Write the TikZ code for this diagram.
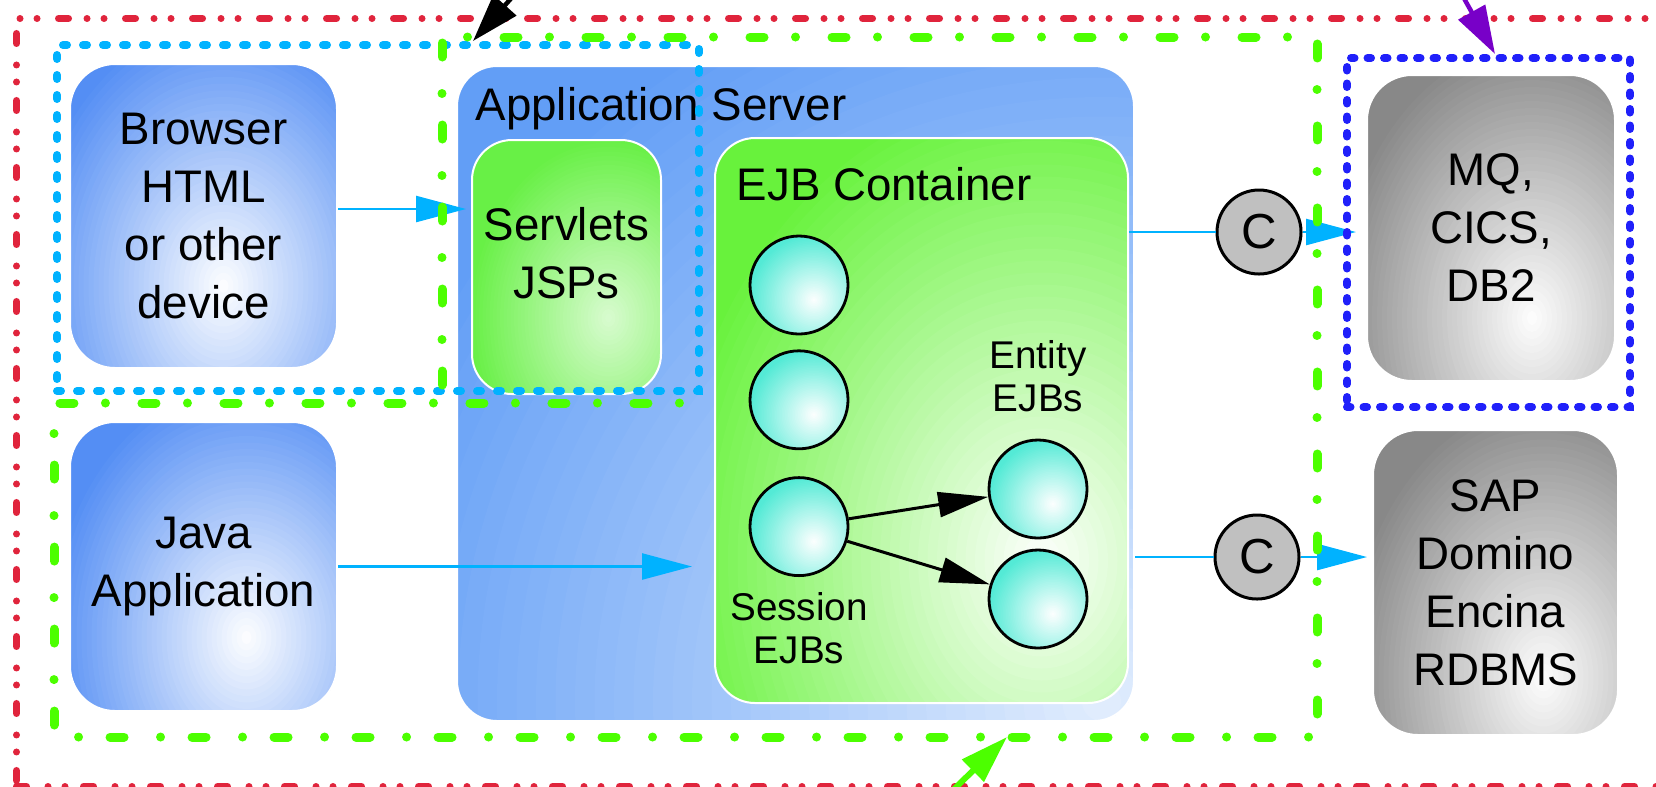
\documentclass[tikz,border=0pt]{standalone}
\usepackage{fontspec}
\setmainfont{Liberation Sans}
\usetikzlibrary{positioning,arrows.meta}

\definecolor{clientBlue}{RGB}{84,142,244}
\definecolor{serverBlue}{RGB}{98,158,246}
\definecolor{webGreen}{RGB}{104,240,70}
\definecolor{ejbGreen}{RGB}{104,242,60}
\definecolor{beanCyan}{RGB}{84,234,214}
\definecolor{eisGray}{RGB}{136,136,136}
\definecolor{connGray}{RGB}{192,192,192}
\definecolor{linkCyan}{RGB}{0,178,255}
\definecolor{frameRed}{RGB}{224,36,60}
\definecolor{frameGreen}{RGB}{76,255,0}
\definecolor{frameBlue}{RGB}{32,32,250}
\definecolor{framePurple}{RGB}{120,0,200}

\newcommand{\boxfont}{\fontsize{13pt}{16.5pt}\selectfont}
\newcommand{\beanfont}{\fontsize{11pt}{12.3pt}\selectfont}

\begin{document}
\begin{tikzpicture}[x=0.1mm, y=-0.1mm, node distance=1.4mm,
  glow/.style n args={5}{path picture={
    \foreach \k [evaluate=\k as \pct using \k*#5/40] in {0,...,39}
      \fill[white!\pct!#1] ([shift={#2}]path picture bounding box.center)
        ellipse [x radius={#3*(1-\k/40)}, y radius={#4*(1-\k/40)}];}},
  tierBox/.style={rounded corners=4.5mm, draw=white, line width=0.2mm,
    anchor=north west, align=center, font=\boxfont},
  boxTitle/.style={anchor=north west, inner sep=0pt, font=\boxfont},
  bean/.style={circle, draw=black, line width=0.28mm, minimum size=9.8mm,
    fill=beanCyan, glow={beanCyan}{(1.5mm,-1.5mm)}{6.5mm}{6.5mm}{100}},
  beanLabel/.style={inner sep=0pt, align=center, font=\beanfont},
  connector/.style={circle, draw=black, line width=0.3mm, fill=connGray,
    minimum size=8.4mm, inner sep=0pt, font=\fontsize{14pt}{16pt}\selectfont},
  link/.style={draw=linkCyan, line width=0.25mm,
    -{Triangle[length=5mm,width=2.6mm]}},
  beanLink/.style={line width=0.3mm, -{Triangle[length=5mm,width=2.5mm]}},
  pointer/.style={line width=0.45mm, -{Triangle[length=4.8mm,width=3mm]}},
  redFrame/.style={draw=frameRed, line width=0.7mm, line cap=round,
    dash pattern=on 1mm off 2.15mm on 0mm off 1.7mm on 0mm off 1.85mm},
  cyanFrame/.style={draw=linkCyan, line width=0.8mm, line cap=round,
    dash pattern=on 0.4mm off 1.6mm},
  greenFrame/.style={draw=frameGreen, line width=0.9mm, line cap=round,
    dash pattern=on 1.4mm off 3.15mm on 0mm off 3.65mm},
  blueFrame/.style={draw=frameBlue, line width=0.8mm, line cap=round,
    dash pattern=on 0.35mm off 1.3mm}]
  \useasboundingbox (0,0) rectangle (1656,786);
  \clip (0,0) rectangle (1656,786);

  \node[tierBox, fill=clientBlue, glow={clientBlue}{(2mm,-7mm)}{20mm}{27mm}{100},
    minimum width=26.7mm, minimum height=30.4mm]
    (browser) at (69,63) {Browser\\HTML\\or other\\device};
  \node[tierBox, fill=clientBlue, glow={clientBlue}{(4.3mm,-7.1mm)}{20mm}{26mm}{100},
    minimum width=26.7mm, minimum height=28.9mm,
    below = 5.2mm of browser] (javaApp) {Java\\Application};
  \node[tierBox, fill=serverBlue, glow={serverBlue}{(30.6mm,-30.8mm)}{78mm}{78mm}{82},
    rounded corners=4mm, minimum width=67.7mm, minimum height=65.5mm]
    (appServer) at (456,65) {};
  \node[boxTitle] (appServerTitle) at ([shift={(1.9mm,-2.2mm)}]appServer.north west)
    {Application Server};
  \node[tierBox, fill=webGreen, glow={webGreen}{(4.2mm,-5.1mm)}{14mm}{18mm}{75},
    rounded corners=4mm, minimum width=18.9mm, minimum height=25.4mm]
    (servlets) at (471,139) {};
  \node[align=center, font=\boxfont] (servletsText) at ([yshift=1.4mm]servlets.center)
    {Servlets\\JSPs};
  \node[tierBox, fill=ejbGreen, glow={ejbGreen}{(12mm,-14mm)}{38mm}{48mm}{100},
    rounded corners=4mm, minimum width=41.3mm, minimum height=56.5mm]
    (ejbContainer) at (714,137) {};
  \node[boxTitle] (ejbTitle) at ([shift={(2.2mm,-3mm)}]ejbContainer.north west)
    {EJB Container};
  \node[tierBox, fill=eisGray, glow={eisGray}{(4.1mm,-9mm)}{20mm}{28mm}{100},
    minimum width=24.8mm, minimum height=30.6mm]
    (mqBox) at (1366,74) {MQ,\\CICS,\\DB2};
  \node[tierBox, fill=eisGray, glow={eisGray}{(4.8mm,-9.5mm)}{20mm}{28mm}{100},
    minimum width=24.5mm, minimum height=30.5mm]
    (sapBox) at (1372,429) {SAP\\Domino\\Encina\\RDBMS};

  \node[bean] (beanOne) at (799,285) {};
  \node[bean, below = of beanOne] (beanTwo) {};
  \node[bean, below = 2.6mm of beanTwo] (sessionBean) {};
  \node[bean] (entityOne) at (1038,489) {};
  \node[bean] (entityTwo) at (1038,599) {};
  \node[beanLabel, below = 1.5mm of sessionBean] (sessionLabel) {Session\\EJBs};
  \node[beanLabel, above = 2.6mm of entityOne] (entityLabel) {Entity\\EJBs};
  \draw[beanLink] (sessionBean) -- (entityOne);
  \draw[beanLink] (sessionBean) -- (entityTwo);

  \node[connector] (connectorOne) at (1259,232) {C};
  \node[connector] (connectorTwo) at (1257,557) {C};
  \draw[link, shorten >=0.5mm] ([yshift=0.7mm]browser.east)
    -- ([yshift=0.7mm]browser.east -| servlets.west);
  \draw[link, shorten >=2.2mm] (javaApp) -- (javaApp -| ejbContainer.west);
  \draw[link, -] (ejbContainer.east |- connectorOne) -- (connectorOne);
  \draw[link, shorten >=1mm] (connectorOne) -- (connectorOne -| mqBox.west);
  \draw[link, -] (appServer.east |- connectorTwo) -- (connectorTwo);
  \draw[link, shorten >=0.5mm] (connectorTwo) -- (connectorTwo -| sapBox.west);

  \node[redFrame, anchor=north west, minimum width=165.2mm, minimum height=76.8mm]
    (enterpriseFrame) at (13,15) {};
  \node[cyanFrame, anchor=north west, minimum width=64.2mm, minimum height=34.6mm]
    (webFrame) at (53,41) {};
  \node[blueFrame, anchor=north west, minimum width=28.3mm, minimum height=34.9mm]
    (eisFrame) at (1343,54) {};
  \draw[greenFrame] (442,385) -- (442,37) -- (1317,37) -- (1317,737)
    -- (54,737) -- (54,403) -- (697,403);

  \coordinate (webTail) at (532,-25);
  \coordinate (eisTail) at (1451,-25);
  \coordinate (middleTail) at (933,810);
  \draw[pointer, black] (webTail) -- (473,0 |- webFrame.north);
  \draw[pointer, framePurple] (eisTail) -- (1495,0 |- eisFrame.north);
  \draw[pointer, frameGreen, line width=0.6mm] (middleTail) -- (1007,737);
\end{tikzpicture}
\end{document}
